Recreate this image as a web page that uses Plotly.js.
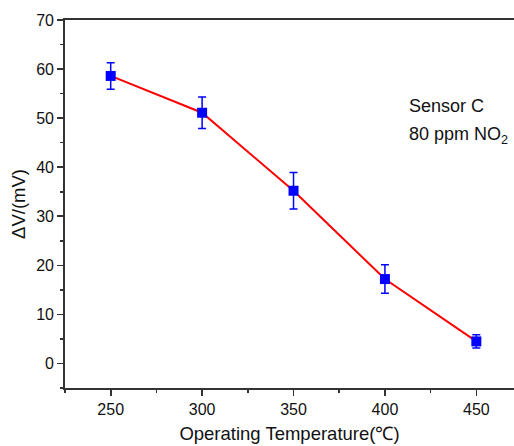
<!DOCTYPE html>
<html>
<head>
<meta charset="utf-8">
<script src="https://cdn.plot.ly/plotly-3.0.1.min.js"></script>
<style>html,body{margin:0;padding:0;background:#fff;}#chart{width:514px;height:446px;}</style>
</head>
<body>
<div id="chart"></div>
<script>
const temperatures = [250, 300, 350, 400, 450];
const deltaV = [58.6, 51.1, 35.2, 17.2, 4.5];
const errors = [2.7, 3.2, 3.7, 2.9, 1.35];
const xTitle = 'Operating Temperature(\u2103)';
const yTitle = '\u0394V/(mV)';
const noteLines = ['Sensor C', '80 ppm NO<sub>2</sub>'];

const font = 'Liberation Sans, Arial, sans-serif';
const axisColor = '#333333';

const trace = {
  x: temperatures,
  y: deltaV,
  type: 'scatter',
  mode: 'lines+markers',
  line: {color: '#ff0000', width: 2},
  marker: {symbol: 'square', size: 10, color: '#0000ff'},
  error_y: {type: 'data', array: errors, visible: true, color: '#0000ff', thickness: 1.5, width: 4}
};

const layout = {
  width: 514, height: 446,
  margin: {l: 65, r: 0, t: 20, b: 58},
  paper_bgcolor: '#ffffff', plot_bgcolor: '#ffffff',
  showlegend: false,
  font: {family: font, size: 16, color: '#000'},
  xaxis: {
    range: [225, 470.6],
    tickvals: temperatures,
    ticks: 'outside', ticklen: 6, tickwidth: 1.6, tickcolor: axisColor,
    minor: {dtick: 25, tick0: 225, ticks: 'outside', ticklen: 3, tickwidth: 1.6, tickcolor: axisColor},
    showline: true, linecolor: axisColor, linewidth: 1.8, mirror: true,
    showgrid: false, zeroline: false,
    tickfont: {family: font, size: 16, color: '#111'},
    title: {text: xTitle, font: {family: font, size: 18.5, color: '#111'}, standoff: 10}
  },
  yaxis: {
    range: [-5, 70],
    dtick: 10, tick0: 0,
    ticks: 'outside', ticklen: 6, tickwidth: 1.6, tickcolor: axisColor,
    minor: {dtick: 5, tick0: -5, ticks: 'outside', ticklen: 3, tickwidth: 1.6, tickcolor: axisColor},
    showline: true, linecolor: axisColor, linewidth: 1.8,
    showgrid: false, zeroline: false,
    tickfont: {family: font, size: 16, color: '#111'},
    title: {text: yTitle, font: {family: font, size: 18.5, color: '#111'}, standoff: 6}
  },
  annotations: [
    {text: noteLines[0], xref: 'paper', yref: 'paper', x: 0.762, y: 0.766, xanchor: 'left', yanchor: 'middle', showarrow: false, font: {family: font, size: 18, color: '#111'}},
    {text: noteLines[1], xref: 'paper', yref: 'paper', x: 0.762, y: 0.686, xanchor: 'left', yanchor: 'middle', showarrow: false, font: {family: font, size: 18, color: '#111'}}
  ]
};

Plotly.newPlot('chart', [trace], layout, {displayModeBar: false, staticPlot: true});
</script>
</body>
</html>
